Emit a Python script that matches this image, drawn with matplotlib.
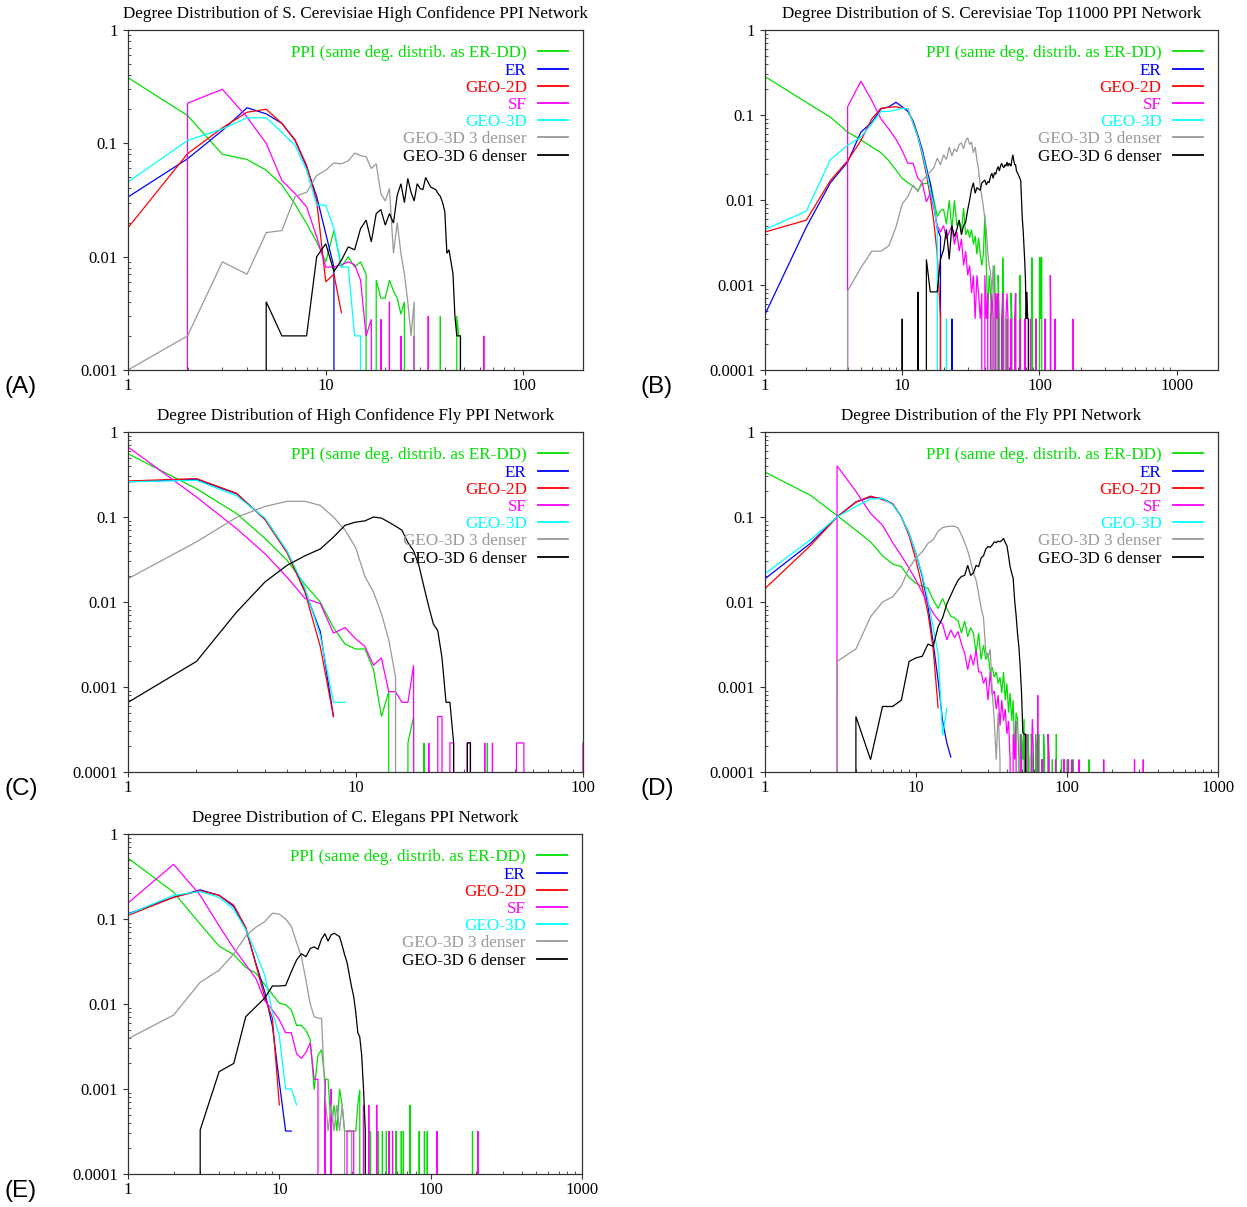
import matplotlib
matplotlib.use("Agg")
import matplotlib.pyplot as plt
from matplotlib.ticker import FixedLocator, FixedFormatter, LogLocator, NullFormatter

# ---------------- labels / colours ----------------
LABELS = ["PPI (same deg. distrib. as ER-DD)", "ER", "GEO-2D", "SF", "GEO-3D",
          "GEO-3D 3 denser", "GEO-3D 6 denser"]
COLORS = ["#00e000", "#0000ff", "#ff0000", "#ff00ff", "#00ffff", "#999999", "#000000"]
TITLES = ["Degree Distribution of S. Cerevisiae High Confidence PPI Network",
          "Degree Distribution of S. Cerevisiae Top 11000 PPI Network",
          "Degree Distribution of High Confidence Fly PPI Network",
          "Degree Distribution of the Fly PPI Network",
          "Degree Distribution of C. Elegans PPI Network"]
PANEL_TAGS = ["(A)", "(B)", "(C)", "(D)", "(E)"]
XMAX = [200, 2000, 100, 1000, 1000]
YMIN = [1e-3, 1e-4, 1e-4, 1e-4, 1e-4]
XTICKS = [[1, 10, 100], [1, 10, 100, 1000], [1, 10, 100], [1, 10, 100, 1000], [1, 10, 100, 1000]]
XTICKLABELS = [["1", "10", "100"], ["1", "10", "100", "1000"], ["1", "10", "100"],
               ["1", "10", "100", "1000"], ["1", "10", "100", "1000"]]
YTICKS_A = [0.001, 0.01, 0.1, 1]
YTICKLABELS_A = ["0.001", "0.01", "0.1", "1"]
YTICKS = [0.0001, 0.001, 0.01, 0.1, 1]
YTICKLABELS = ["0.0001", "0.001", "0.01", "0.1", "1"]
# series whose curve rises from the bottom axis at degree 1
RISE_A = ["PPI"]
RISE_B = ["PPI", "ER"]
RISE_C = ["PPI", "SF"]
RISE_D = ["PPI"]
RISE_E = ["PPI", "SF"]

# ---------------- Panel A ----------------
A_PPI_START = 1
A_PPI = [0.38, 0.176, 0.08, 0.072, 0.058, 0.043, 0.029, 0.0196, 0.0135, 0.009, 0.017, 0.0081,
         0.01, 0.0081, 0.009, 0.007, 0, 0.0062, 0.0043, 0.0043, 0.0062, 0.005, 0.0043, 0.0031, 0.004]
A_PPI_TAIL_K = [38, 46, 47, 48, 49]
A_PPI_TAIL_P = [0.003, 0.003, 0.002, 0.002, 0]
A_ER_START = 1
A_ER = [0.0336, 0.073, 0.13, 0.206, 0.182, 0.15, 0.106, 0.062, 0.034, 0.016, 0.0081, 0]
A_GEO2D_START = 1
A_GEO2D = [0.018, 0.081, 0.137, 0.188, 0.2, 0.15, 0.107, 0.064, 0.031, 0.006, 0.007, 0.0032]
A_SF_START = 1
A_SF = [0, 0.226, 0.30, 0.17, 0.1, 0.047, 0.036, 0.0275, 0.015, 0.0081, 0.0081, 0.0085, 0.009,
        0.0085, 0.0062, 0.002, 0.0028, 0, 0.0028, 0, 0.004]
A_SF_TAIL_K = [24, 28, 33, 63, 64]
A_SF_TAIL_P = [0.002, 0.002, 0.003, 0.002, 0]
A_GEO3D_START = 1
A_GEO3D = [0.0456, 0.106, 0.134, 0.168, 0.168, 0.125, 0.096, 0.058, 0.0285, 0.0285, 0.0177,
           0.0081, 0.0081, 0.002, 0.002, 0]
A_D3_START = 1
A_D3 = [0.001, 0.002, 0.009, 0.007, 0.0163, 0.017, 0.034, 0.037, 0.052, 0.058, 0.067, 0.066,
        0.07, 0.082, 0.078, 0.076, 0.06, 0.066, 0.036, 0.031, 0.04, 0.0107, 0.02, 0.0107, 0.007,
        0.004, 0.002, 0.004, 0]
A_D6_START = 4
A_D6 = [0, 0.004, 0.002, 0.002, 0.002, 0.01, 0.013, 0.0074, 0.0093, 0.0122, 0.0115, 0.0177,
        0.021, 0.0135, 0.024, 0.026, 0.019, 0.024, 0.0198, 0.035, 0.044, 0.03, 0.049, 0.037,
        0.031, 0.044, 0.04, 0.039, 0.05, 0.045, 0.041, 0.04, 0.039, 0.036, 0.034, 0.03, 0.025,
        0.0107, 0.0115, 0.009, 0.0071, 0.003, 0.002, 0.002, 0.002, 0]

# ---------------- Panel B ----------------
B_PPI_START = 1
B_PPI = [0.283, 0.141, 0.094, 0.063, 0.051, 0.042, 0.036, 0.029, 0.0225, 0.018, 0.016, 0.0145,
         0.013, 0.0155, 0.0157, 0.016, 0.01, 0.0064, 0.0075, 0.0078, 0.0052, 0.0099, 0.0045,
         0.0099, 0.005, 0.0058, 0.0043, 0.008, 0.0039, 0.0045, 0.0036, 0.0045, 0.003, 0.0038,
         0.0023, 0.0036, 0.0023, 0.0017, 0.0023, 0.0067, 0.0017, 0.0004, 0.0013, 0.0008, 0.0004]
B_PPI_TAIL_K = [47, 48, 50, 51, 54, 55, 58, 62, 63, 67, 72, 73, 78, 88, 89, 95, 100, 101, 102,
                103, 104, 110, 111]
B_PPI_TAIL_P = [0.0017, 0.0004, 0.0013, 0.0004, 0.0021, 0.0004, 0.0004, 0.0008, 0.0004, 0.0008,
                0.0013, 0.0004, 0.0004, 0.0021, 0.0004, 0.0004, 0.0021, 0.0021, 0.0004, 0.0021,
                0.0021, 0.0004, 0]
B_ER_START = 1
B_ER = [0.00045, 0.0048, 0.016, 0.028, 0.063, 0.082, 0.118, 0.125, 0.141, 0.125, 0.11, 0.085,
        0.058, 0.039, 0.024, 0.016, 0.0087, 0.0046, 0.0037, 0]
B_ER_TAIL_K = [23, 24]
B_ER_TAIL_P = [0.0004, 0]
B_GEO2D_START = 1
B_GEO2D = [0.0042, 0.0058, 0.017, 0.029, 0.05, 0.09, 0.12, 0.123, 0.125, 0.12, 0.118, 0.08,
           0.055, 0.034, 0.02, 0.011, 0.0055, 0.0023, 0.0004, 0]
B_SF_START = 3
B_SF = [0, 0.125, 0.25, 0.148, 0.09, 0.068, 0.052, 0.038, 0.027, 0.027, 0.018, 0.016, 0.0095,
        0.012, 0.008, 0.005, 0.0042, 0.005, 0.0035, 0.0042, 0.005, 0.003, 0.0042, 0.0025, 0.0035,
        0.0017, 0.0025, 0.0013, 0.0017, 0.0008, 0.0013, 0.0004, 0.0013, 0.0008, 0.0004, 0.0008, 0,
        0.0013, 0.0004, 0.0008, 0, 0.0004, 0.0008, 0.0004, 0, 0.0008, 0.0004, 0.0008]
B_SF_TAIL_K = [53, 54, 57, 58, 59, 62, 66, 67, 72, 78, 79, 86, 94, 110, 120, 121, 130, 176, 177]
B_SF_TAIL_P = [0.0004, 0.0008, 0.0004, 0.0008, 0.0004, 0.0004, 0.0004, 0.0008, 0.0004, 0.0004,
               0.0004, 0.0004, 0.0004, 0.0004, 0.0013, 0.0004, 0.0004, 0.0004, 0]
B_GEO3D_START = 1
B_GEO3D = [0.0045, 0.0074, 0.03, 0.044, 0.055, 0.079, 0.11, 0.11, 0.115, 0.12, 0.118, 0.08,
           0.055, 0.036, 0.022, 0.013, 0.0087, 0.0045, 0]
B_GEO3D_TAIL_K = [21, 22]
B_GEO3D_TAIL_P = [0.0004, 0]
B_D3_START = 3
B_D3 = [0, 0.00085, 0.0016, 0.0025, 0.0025, 0.0029, 0.0048, 0.009, 0.011, 0.015, 0.0125, 0.017,
        0.019, 0.0215, 0.024, 0.031, 0.026, 0.034, 0.03, 0.042, 0.033, 0.04, 0.037, 0.045, 0.047,
        0.04, 0.05, 0.054, 0.045, 0.048, 0.036, 0.042, 0.03, 0.0226, 0.0144, 0.011, 0.0084,
        0.006, 0.0045, 0.0024, 0.0017, 0.0014, 0.0008, 0.0017, 0.0004, 0]
B_D6_START = 9
B_D6 = [0, 0.0004, 0, 0, 0.00083, 0, 0.002, 0.00083, 0.00083, 0.00083, 0.002, 0.0026, 0.0045,
        0.002, 0.005, 0.0037, 0.0045, 0.0058, 0.0039, 0.005, 0.0055, 0.0077, 0.01, 0.0135, 0.0159,
        0.012, 0.014, 0.0135, 0.013, 0.0159, 0.0165, 0.0172, 0.015, 0.0165, 0.016, 0.019, 0.0206,
        0.018, 0.021, 0.02, 0.023, 0.0247, 0.022, 0.025, 0.027, 0.025, 0.024, 0.026, 0.025, 0.028,
        0.025, 0.027, 0.026, 0.025, 0.03, 0.034, 0.029, 0.026, 0.026, 0.022, 0.021, 0.02, 0.019,
        0.018, 0.017, 0.01, 0.006, 0.0045, 0.003, 0.002, 0.0012, 0.0004, 0.00083, 0.0004, 0.0004, 0]

# ---------------- Panel C ----------------
C_PPI_START = 1
C_PPI = [0.556, 0.215, 0.11, 0.056, 0.031, 0.016, 0.01, 0.005, 0.0032, 0.0028, 0.0028, 0.0016,
         0.00045, 0.00088, 0, 0, 0.00022, 0.00045, 0, 0.00022, 0]
C_PPI_TAIL_K = [38, 39]
C_PPI_TAIL_P = [0.00022, 0]
C_ER_START = 1
C_ER = [0.26, 0.277, 0.188, 0.095, 0.039, 0.0135, 0.0045, 0.00045]
C_GEO2D_START = 1
C_GEO2D = [0.265, 0.283, 0.19, 0.093, 0.038, 0.013, 0.003, 0.00045]
C_SF_START = 1
C_SF = [0.667, 0.172, 0.073, 0.037, 0.0196, 0.011, 0.0096, 0.0043, 0.005, 0.0037, 0.003, 0.0018,
        0.0022, 0.00088, 0.00088, 0.00066, 0.00066, 0.0018, 0, 0, 0.00022, 0, 0.00045, 0.00045, 0,
        0.00022, 0.00022, 0]
C_SF_TAIL_K = [31, 32, 33, 37, 38, 40, 41, 51, 52, 53, 54, 55, 56, 100]
C_SF_TAIL_P = [0.00022, 0.00022, 0, 0.00022, 0, 0.00022, 0, 0.00022, 0.00022, 0.00022, 0.00022,
               0.00022, 0, 0.00022]
C_GEO3D_START = 1
C_GEO3D = [0.26, 0.27, 0.178, 0.097, 0.04, 0.0145, 0.004, 0.00066, 0.00066]
C_D3_START = 1
C_D3 = [0.0188, 0.051, 0.099, 0.133, 0.153, 0.153, 0.137, 0.1, 0.07, 0.044, 0.02, 0.013, 0.0073,
        0.0036, 0.0013, 0]
C_D6_START = 1
C_D6 = [0.00066, 0.002, 0.0076, 0.0172, 0.027, 0.035, 0.042, 0.058, 0.08, 0.087, 0.09, 0.1,
        0.097, 0.087, 0.078, 0.07, 0.05, 0.04, 0.027, 0.015, 0.0088, 0.0055, 0.0046, 0.0022,
        0.00066, 0.00066, 0.00022, 0]
C_D6_TAIL_K = [31, 32, 33]
C_D6_TAIL_P = [0.00022, 0.00022, 0]

# ---------------- Panel D ----------------
D_PPI_START = 1
D_PPI = [0.338, 0.18, 0.104, 0.07, 0.051, 0.035, 0.028, 0.026, 0.0195, 0.0166, 0.0152, 0.0145,
         0.0106, 0.0084, 0.011, 0.0084, 0.0068, 0.0065, 0.006, 0.0043, 0.006, 0.0039, 0.005,
         0.0043, 0.0025, 0.0043, 0.0021, 0.0031, 0.0021, 0.0025, 0.0015, 0.0017, 0.0013, 0.0015,
         0.0011, 0.0013, 0.00085, 0.0015, 0.0007, 0.0011, 0.0005, 0.00085, 0.0004, 0.0007,
         0.00015, 0.0005]
D_PPI_TAIL_K = [47, 48, 50, 51, 52, 55, 56, 58, 59, 62, 63, 65, 68, 70, 71, 75, 76, 80, 85, 92,
                100, 101, 110, 140, 141]
D_PPI_TAIL_P = [0.00042, 0.00014, 0.00028, 0.00014, 0.00042, 0.00028, 0.00014, 0.00028, 0.00014,
                0.00028, 0.00014, 0.00028, 0.00014, 0.00028, 0.00014, 0.00028, 0.00014, 0.00014,
                0.00028, 0.00014, 0.00014, 0.00014, 0.00014, 0.00014, 0]
D_ER_START = 1
D_ER = [0.0188, 0.049, 0.1, 0.15, 0.172, 0.165, 0.143, 0.1, 0.064, 0.037, 0.02, 0.009, 0.0033,
        0.0012, 0.0004, 0.00022, 0.00015]
D_GEO2D_START = 1
D_GEO2D = [0.0144, 0.046, 0.1, 0.15, 0.176, 0.16, 0.143, 0.1, 0.06, 0.031, 0.015, 0.0074, 0.0028,
           0.00057]
D_SF_START = 2
D_SF = [0, 0.4, 0.2, 0.11, 0.08, 0.05, 0.035, 0.025, 0.018, 0.013, 0.0095, 0.0074, 0.0062, 0.0055,
        0.0036, 0.0047, 0.0038, 0.0045, 0.0032, 0.0025, 0.0016, 0.0024, 0.0018, 0.0027, 0.0015,
        0.0015, 0.0011, 0.0013, 0.0007, 0.0015, 0.0008, 0.0009, 0.00055, 0.0008, 0.00035, 0.0007,
        0.0004, 0.00055, 0.00028, 0.0004, 0.00014, 0, 0.00028, 0.00014, 0.0004, 0]
D_SF_TAIL_K = [49, 50, 53, 54, 58, 59, 60, 64, 68, 69, 75, 76, 84, 95, 96, 102, 108, 120, 175,
               280, 320, 321]
D_SF_TAIL_P = [0.00028, 0.00014, 0.00014, 0.00028, 0.00014, 0.00042, 0.00014, 0.0008, 0.00014,
               0.00014, 0.00028, 0.00014, 0.00014, 0.00014, 0.00014, 0.00014, 0.00014, 0.00014,
               0.00014, 0.00014, 0.00014, 0]
D_GEO3D_START = 1
D_GEO3D = [0.0215, 0.054, 0.1, 0.133, 0.163, 0.165, 0.14, 0.1, 0.064, 0.037, 0.021, 0.0105,
           0.005, 0.0025, 0.00027, 0.00056]
D_D3_START = 2
D_D3 = [0, 0.002, 0.0028, 0.0067, 0.01, 0.0115, 0.0155, 0.025, 0.033, 0.039, 0.049, 0.054, 0.068,
        0.075, 0.077, 0.078, 0.078, 0.074, 0.062, 0.05, 0.04, 0.03, 0.022, 0.018, 0.0125, 0.0085,
        0.0065, 0.0026, 0.0022, 0.0028, 0.00085, 0.0004, 0.00014, 0.0005, 0.00014, 0]
D_D6_START = 3
D_D6 = [0, 0.00045, 0.00014, 0.00059, 0.00059, 0.0007, 0.002, 0.0022, 0.0023, 0.0032, 0.003,
        0.0051, 0.0065, 0.0095, 0.012, 0.015, 0.018, 0.02, 0.0205, 0.027, 0.0205, 0.022, 0.027,
        0.026, 0.033, 0.035, 0.042, 0.045, 0.044, 0.047, 0.051, 0.05, 0.052, 0.051, 0.053, 0.056,
        0.05, 0.046, 0.035, 0.026, 0.022, 0.019, 0.0105, 0.007, 0.0043, 0.003, 0.0017, 0.00085,
        0.00029, 0.00028, 0.00028, 0]

# ---------------- Panel E ----------------
E_PPI_START = 1
E_PPI = [0.52, 0.207, 0.087, 0.048, 0.038, 0.027, 0.023, 0.017, 0.013, 0.0102, 0.0098, 0.0085,
         0.0056, 0.0056, 0.0049, 0.0038, 0.00098, 0.0025, 0.0029, 0.0013, 0.0013, 0.00033,
         0.00065, 0.00032, 0.001, 0.00065, 0.00032, 0.00032, 0.00032, 0.00032, 0.00032, 0.00032,
         0.00065, 0.00098, 0]
E_PPI_TAIL_K = [40, 45, 48, 51, 53, 59, 64, 66, 73, 84, 91, 95, 189, 190]
E_PPI_TAIL_P = [0.00032, 0.00032, 0.00032, 0.00032, 0.00032, 0.00032, 0.00032, 0.00032, 0.00065,
                0.00032, 0.00032, 0.00032, 0.00032, 0]
E_ER_START = 1
E_ER = [0.115, 0.18, 0.22, 0.19, 0.14, 0.077, 0.03, 0.014, 0.0055, 0.0012, 0.00032, 0.00032]
E_GEO2D_START = 1
E_GEO2D = [0.11, 0.18, 0.215, 0.19, 0.145, 0.08, 0.029, 0.012, 0.0068, 0.00065]
E_SF_START = 1
E_SF = [0.154, 0.44, 0.19, 0.083, 0.045, 0.029, 0.02, 0.011, 0.0085, 0.0065, 0.0046, 0.0046,
        0.0026, 0.0023, 0.0027, 0.0035, 0.0013, 0.0013, 0, 0.0013, 0, 0.001, 0]
E_SF_TAIL_K = [28, 29, 30, 31, 32, 36, 37, 39, 40, 44, 45, 53, 54, 56, 57, 110, 111, 205, 206]
E_SF_TAIL_P = [0.00032, 0.00032, 0.00032, 0.00032, 0, 0.00065, 0, 0.00065, 0, 0.00065, 0,
               0.00032, 0, 0.00032, 0, 0.00032, 0, 0.00032, 0]
E_GEO3D_START = 1
E_GEO3D = [0.113, 0.19, 0.21, 0.18, 0.13, 0.075, 0.04, 0.022, 0.008, 0.0042, 0.001, 0.001, 0.00065]
E_D3_START = 1
E_D3 = [0.0039, 0.0074, 0.018, 0.025, 0.039, 0.063, 0.08, 0.093, 0.117, 0.114, 0.1, 0.082, 0.053,
        0.036, 0.019, 0.01, 0.0071, 0.0068, 0.0068, 0.0009, 0.00032, 0.00065, 0.00032, 0.00065,
        0.00032, 0.00065, 0.00032, 0]
E_D3_TAIL_K = [30, 31]
E_D3_TAIL_P = [0.00032, 0]
E_D6_START = 2
E_D6 = [0, 0.00033, 0.0016, 0.002, 0.0071, 0.0093, 0.0117, 0.0163, 0.0163, 0.0165, 0.024, 0.033,
        0.039, 0.036, 0.045, 0.047, 0.044, 0.058, 0.067, 0.055, 0.065, 0.068, 0.065, 0.062, 0.049,
        0.038, 0.031, 0.022, 0.016, 0.0122, 0.008, 0.0046, 0.0041, 0.0025, 0.001, 0.00032, 0]


def build(start, body, tail_k=(), tail_p=(), rise=False):
    """Degree -> fraction; degrees not listed between observed ones have zero count."""
    pts = {start + i: v for i, v in enumerate(body)}
    pts.update(zip(tail_k, tail_p))
    ks = sorted(pts)
    full_k = list(range(ks[0], ks[-1] + 1))
    full_p = [pts.get(k, 0.0) for k in full_k]
    if rise:
        full_k = [full_k[0]] + full_k
        full_p = [0.0] + full_p
    return full_k, full_p


PANELS = [
    ("A", [(A_PPI_START, A_PPI, A_PPI_TAIL_K, A_PPI_TAIL_P), (A_ER_START, A_ER, (), ()),
           (A_GEO2D_START, A_GEO2D, (), ()), (A_SF_START, A_SF, A_SF_TAIL_K, A_SF_TAIL_P),
           (A_GEO3D_START, A_GEO3D, (), ()), (A_D3_START, A_D3, (), ()), (A_D6_START, A_D6, (), ())],
     RISE_A),
    ("B", [(B_PPI_START, B_PPI, B_PPI_TAIL_K, B_PPI_TAIL_P), (B_ER_START, B_ER, B_ER_TAIL_K, B_ER_TAIL_P),
           (B_GEO2D_START, B_GEO2D, (), ()), (B_SF_START, B_SF, B_SF_TAIL_K, B_SF_TAIL_P),
           (B_GEO3D_START, B_GEO3D, B_GEO3D_TAIL_K, B_GEO3D_TAIL_P), (B_D3_START, B_D3, (), ()),
           (B_D6_START, B_D6, (), ())],
     RISE_B),
    ("C", [(C_PPI_START, C_PPI, C_PPI_TAIL_K, C_PPI_TAIL_P), (C_ER_START, C_ER, (), ()),
           (C_GEO2D_START, C_GEO2D, (), ()), (C_SF_START, C_SF, C_SF_TAIL_K, C_SF_TAIL_P),
           (C_GEO3D_START, C_GEO3D, (), ()), (C_D3_START, C_D3, (), ()),
           (C_D6_START, C_D6, C_D6_TAIL_K, C_D6_TAIL_P)],
     RISE_C),
    ("D", [(D_PPI_START, D_PPI, D_PPI_TAIL_K, D_PPI_TAIL_P), (D_ER_START, D_ER, (), ()),
           (D_GEO2D_START, D_GEO2D, (), ()), (D_SF_START, D_SF, D_SF_TAIL_K, D_SF_TAIL_P),
           (D_GEO3D_START, D_GEO3D, (), ()), (D_D3_START, D_D3, (), ()), (D_D6_START, D_D6, (), ())],
     RISE_D),
    ("E", [(E_PPI_START, E_PPI, E_PPI_TAIL_K, E_PPI_TAIL_P), (E_ER_START, E_ER, (), ()),
           (E_GEO2D_START, E_GEO2D, (), ()), (E_SF_START, E_SF, E_SF_TAIL_K, E_SF_TAIL_P),
           (E_GEO3D_START, E_GEO3D, (), ()), (E_D3_START, E_D3, E_D3_TAIL_K, E_D3_TAIL_P),
           (E_D6_START, E_D6, (), ())],
     RISE_E),
]
SHORT = ["PPI", "ER", "GEO2D", "SF", "GEO3D", "D3", "D6"]

# ---------------- figure ----------------
plt.rcParams["font.family"] = ["Liberation Serif", "DejaVu Serif"]
W, H = 1247, 1207
fig = plt.figure(figsize=(W / 100, H / 100), dpi=100)

# axes boxes in pixels: left, top, right, bottom
BOXES = [(128, 30, 583, 370), (765, 30, 1218, 370), (128, 432, 583, 772),
         (765, 432, 1218, 772), (128, 834, 582, 1174)]
TAG_POS = [(4, 387), (640, 387), (4, 789), (640, 789), (4, 1191)]

for i, (name, series, rise) in enumerate(PANELS):
    l, t, r, b = BOXES[i]
    ax = fig.add_axes([l / W, 1 - b / H, (r - l) / W, (b - t) / H])
    ax.set_xscale("log")
    ax.set_yscale("log")
    for j, (start, body, tk, tp) in enumerate(series):
        k, p = build(start, body, tk, tp, rise=SHORT[j] in rise)
        ax.plot(k, p, color=COLORS[j], lw=0.9, label=LABELS[j], solid_joinstyle="miter")
    ax.set_xlim(1, XMAX[i])
    ax.set_ylim(YMIN[i], 1)

    ax.xaxis.set_major_locator(FixedLocator(XTICKS[i]))
    ax.xaxis.set_major_formatter(FixedFormatter(XTICKLABELS[i]))
    if i == 0:
        ax.yaxis.set_major_locator(FixedLocator(YTICKS_A))
        ax.yaxis.set_major_formatter(FixedFormatter(YTICKLABELS_A))
    else:
        ax.yaxis.set_major_locator(FixedLocator(YTICKS))
        ax.yaxis.set_major_formatter(FixedFormatter(YTICKLABELS))
    for axis in (ax.xaxis, ax.yaxis):
        axis.set_minor_locator(LogLocator(base=10, subs=range(2, 10), numticks=20))
        axis.set_minor_formatter(NullFormatter())
    ax.tick_params(which="major", direction="out", length=3.5, width=0.8, labelsize=12,
                   color="#333333", pad=2)
    ax.tick_params(axis="y", which="major", pad=4)
    ax.tick_params(which="minor", direction="in", length=2.5, width=0.6, color="#333333")
    for s in ax.spines.values():
        s.set_linewidth(0.9)
        s.set_color("#333333")

    ax.set_title(TITLES[i], fontsize=12.3, pad=9)
    leg = ax.legend(loc="upper right", frameon=False, markerfirst=False, fontsize=12.3,
                    labelcolor="linecolor", handlelength=1.75, handletextpad=0.65,
                    labelspacing=0.07, borderaxespad=0.5, borderpad=0.4)
    for line in leg.get_lines():
        line.set_linewidth(1.3)

    tx, ty = TAG_POS[i]
    fig.text(tx / W, 1 - ty / H, PANEL_TAGS[i], fontsize=17.5, family=["Liberation Sans", "DejaVu Sans"],
             ha="left", va="center")

fig.savefig("out.png", dpi=100)
